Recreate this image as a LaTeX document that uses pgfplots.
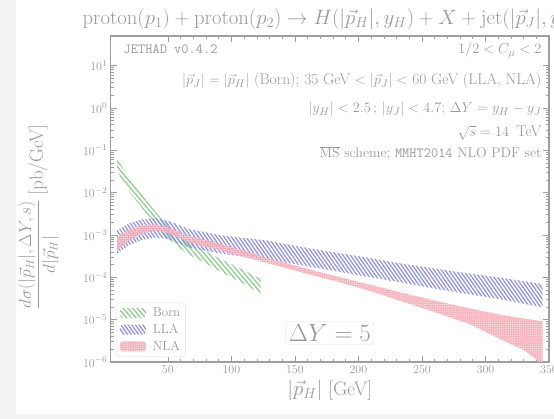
\documentclass[border=0pt]{standalone}
\usepackage{pgfplots}
\pgfplotsset{compat=1.18}
\usepgfplotslibrary{fillbetween}
\usetikzlibrary{patterns.meta}

\definecolor{txt}{gray}{0.6}
\definecolor{frm}{gray}{0.62}
\definecolor{margin}{gray}{0.95}
\definecolor{bornc}{RGB}{140,205,140}
\definecolor{llac}{RGB}{140,140,235}
\definecolor{nlac}{RGB}{245,168,178}

\tikzset{
  bornpat/.style={pattern={Lines[angle=-50,distance=3.6pt,line width=1.3pt]}, pattern color=bornc},
  llapat/.style={pattern={Lines[angle=-55,distance=3pt,line width=1.2pt]}, pattern color=llac},
  nlapat/.style={pattern={Dots[distance=2.2pt,radius=0.5pt]}, pattern color=white},
}

% band edges (pb/GeV)
\pgfplotstableread{
x    up       lo
10   6.76e-2  3.39e-2
15   3.55e-2  1.74e-2
20   2.09e-2  1.02e-2
27   1.15e-2  5.50e-3
33   6.61e-3  3.24e-3
40   3.63e-3  1.91e-3
46   2.19e-3  1.12e-3
53   1.32e-3  6.76e-4
65   7.08e-4  3.63e-4
79   4.27e-4  2.19e-4
92   2.63e-4  1.32e-4
105  1.74e-4  8.32e-5
115  1.23e-4  5.75e-5
123  9.12e-5  4.07e-5
}\born
\pgfplotstableread{
x    up       lo
10   1.29e-3  3.63e-4
20   1.91e-3  5.89e-4
30   2.34e-3  7.59e-4
40   2.51e-3  8.71e-4
50   2.19e-3  7.94e-4
66   1.41e-3  5.13e-4
80   1.15e-3  4.17e-4
92   9.77e-4  3.63e-4
110  8.51e-4  3.02e-4
130  7.24e-4  2.57e-4
160  4.90e-4  1.82e-4
200  3.16e-4  1.12e-4
235  2.09e-4  7.41e-5
270  1.45e-4  4.79e-5
310  1.00e-4  3.09e-5
345  6.92e-5  1.95e-5
}\lla
\pgfplotstableread{
x    up       lo
10   8.91e-4  4.27e-4
20   1.35e-3  7.41e-4
30   1.70e-3  1.07e-3
40   1.78e-3  1.29e-3
50   1.51e-3  1.12e-3
66   9.77e-4  6.76e-4
80   7.59e-4  5.25e-4
92   6.17e-4  4.27e-4
110  4.27e-4  3.02e-4
130  2.75e-4  2.09e-4
160  1.58e-4  1.20e-4
183  1.05e-4  7.94e-5
210  6.61e-5  4.68e-5
235  4.27e-5  2.63e-5
260  2.82e-5  1.51e-5
287  1.86e-5  7.94e-6
311  1.32e-5  3.55e-6
330  1.07e-5  1.91e-6
345  9.12e-6  8.91e-7
}\nla

\begin{document}
\begin{tikzpicture}
\begin{axis}[
  name=ax,
  scale only axis, width=438.3pt, height=326pt,
  xmin=5, xmax=350,
  ymode=log, ymin=1e-6, ymax=50,
  xtick={50,100,...,350}, minor x tick num=4,
  ytick={1e-6,1e-5,1e-4,1e-3,1e-2,1e-1,1,10},
  tick align=inside, tick pos=both, ticklabel pos=left,
  clip mode=individual,
  axis line style={frm, line width=1.3pt},
  every tick/.style={frm, line width=0.6pt},
  major tick length=6pt, minor tick length=3pt,
  tick label style={text=txt, font=\fontsize{12.5}{14}\selectfont},
  legend cell align=left,
  legend style={at={(axis description cs:0,0)}, anchor=south west,
    xshift=6pt, yshift=5pt, draw=black!12, rounded corners=3pt,
    text=txt, font=\fontsize{13}{15}\selectfont, row sep=2pt,
    inner sep=3pt},
]
\addplot[draw=none, name path=bU, forget plot] table[x=x, y=up] {\born};
\addplot[draw=none, name path=bL, forget plot] table[x=x, y=lo] {\born};
\addplot[draw=none, name path=lU, forget plot] table[x=x, y=up] {\lla};
\addplot[draw=none, name path=lL, forget plot] table[x=x, y=lo] {\lla};
\addplot[draw=none, name path=nU, forget plot] table[x=x, y=up] {\nla};
\addplot[draw=none, name path=nL, forget plot] table[x=x, y=lo] {\nla};

\addplot[draw=none, bornpat,
  legend image code/.code={\path[bornpat] (0pt,-5pt) rectangle (26pt,5pt); \path (0pt,0pt) -- (31pt,0pt);}]
  fill between[of=bU and bL];
\addlegendentry{Born}
\addplot[draw=none, llapat,
  legend image code/.code={\path[llapat] (0pt,-5pt) rectangle (26pt,5pt); \path (0pt,0pt) -- (31pt,0pt);}]
  fill between[of=lU and lL];
\addlegendentry{LLA}
\addplot[draw=none, fill=nlac, fill opacity=0.85,
  legend image code/.code={\fill[nlac] (0pt,-5pt) rectangle (26pt,5pt);
    \path[nlapat] (0pt,-5pt) rectangle (26pt,5pt); \path (0pt,0pt) -- (31pt,0pt);}]
  fill between[of=nU and nL];
\addlegendentry{NLA}
\addplot[draw=none, nlapat, forget plot]
  fill between[of=nU and nL];

\node[anchor=base west, text=txt, font=\fontsize{14}{16}\ttfamily]
  at (axis description cs:0,1) [xshift=9.5pt, yshift=-18pt] {JETHAD v0.4.2};
\begin{scope}[every node/.style={anchor=base east, text=txt, font=\fontsize{15.5}{18}\selectfont}]
\node at (axis description cs:1,1) [xshift=-4pt, yshift=-18pt] {$1/2 < C_\mu < 2$};
\node at (axis description cs:1,1) [xshift=-4pt, yshift=-49pt]
  {$|\vec p_J| = |\vec p_H|$ (Born); 35 GeV $< |\vec p_J| <$ 60 GeV (LLA, NLA)};
\node at (axis description cs:1,1) [xshift=-4pt, yshift=-77pt]
  {$|y_H| < 2.5\,;\, |y_J| < 4.7$; $\Delta Y = y_H - y_J$};
\node at (axis description cs:1,1) [xshift=-4pt, yshift=-101pt] {$\sqrt{s} = 14$\, TeV};
\node[font=\fontsize{14}{16}\selectfont] at (axis description cs:1,1) [xshift=-4pt, yshift=-122pt]
  {$\overline{\mbox{MS}}$ scheme; \texttt{MMHT2014} NLO PDF set};
\end{scope}

\node[draw=black!12, rounded corners=3pt, fill=white, text=txt, inner sep=3pt,
  font=\fontsize{23}{26}\selectfont] at (axis description cs:0.5,0) [yshift=29pt] {$\Delta Y = 5$};

\node[text=txt, font=\fontsize{20}{22}\selectfont] at (axis description cs:0.5,1) [yshift=17pt]
  {$\mathrm{proton}(p_1) + \mathrm{proton}(p_2) \to H(|\vec p_H|, y_H) + X + \mathrm{jet}(|\vec p_J|, y_J)$};
\node[text=txt, font=\fontsize{19.5}{22}\selectfont] at (axis description cs:0.5,0) [yshift=-28pt]
  {$|\vec p_H|$ [GeV]};
\node[text=txt, rotate=90, font=\fontsize{16}{19}\selectfont] at (axis description cs:0,0.5) [yshift=72pt, xshift=-18pt]
  {$\displaystyle\frac{d\sigma(|\vec p_H|, \Delta Y, s)}{d|\vec p_H|}$ {\fontsize{19}{22}\selectfont [pb/GeV]}};
\end{axis}
\fill[margin] ([shift={(-110.7pt,-57pt)}]ax.south west) rectangle ([shift={(-94.7pt,362pt)}]ax.south west);
\fill[margin] ([shift={(-110.7pt,-57pt)}]ax.south west) rectangle ([shift={(443.3pt,-52pt)}]ax.south west);
\pgfresetboundingbox
\path[use as bounding box] ([shift={(-110.7pt,-57pt)}]ax.south west) rectangle ([shift={(5pt,36pt)}]ax.north east);
\end{tikzpicture}
\end{document}
